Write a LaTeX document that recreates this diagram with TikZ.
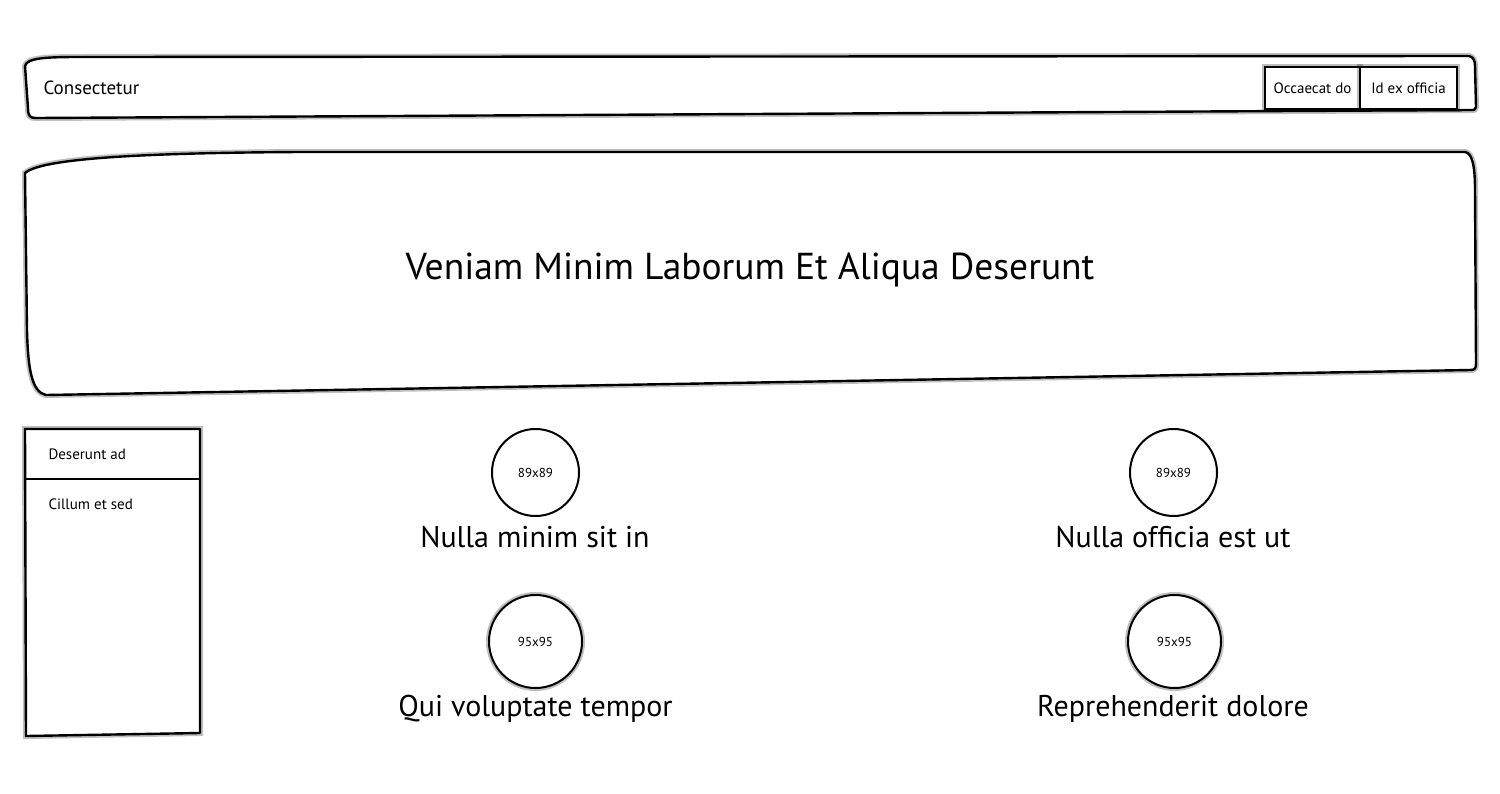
\documentclass[tikz,border=0pt]{standalone}
\usepackage{fontspec}
\setmainfont{PT Sans}
\begin{document}
\begin{tikzpicture}[x=1pt,y=-1pt,
  halo/.style={preaction={draw=black,opacity=0.25,line width=6pt}},
  frame/.style={draw=black,line width=2.4pt,fill=white,line join=round},
  thin/.style={draw=black,line width=2pt,fill=white},
  small/.style={font=\fontsize{13}{15}\selectfont},
  med/.style={font=\fontsize{15}{18}\selectfont},
  lbl/.style={font=\fontsize{30}{36}\selectfont},
]
\useasboundingbox (0,0) rectangle (1500,793);
\fill[white] (0,0) rectangle (1500,793);
% header bar
\path[frame,halo] (25,66) .. controls (27,58) and (45,57) .. (80,57) -- (1469,56)
  .. controls (1473,57) and (1475,60) .. (1475,66) -- (1476,107)
  .. controls (1476,110) and (1474,110) .. (1470,110) -- (36,118)
  .. controls (30,118) and (28,116) .. (28,108) -- cycle;
\node[font=\fontsize{19}{22}\selectfont,anchor=west] (brand) at (40,88) {Consectetur};
\node[thin,halo,med,minimum width=95pt,minimum height=42pt,inner sep=0pt] (b1) at (1312.5,88) {Occaecat do};
\node[thin,halo,med,minimum width=97pt,minimum height=42pt,inner sep=0pt] (b2) at (1408.5,88) {Id ex officia};
% hero
\path[frame,halo] (25,173) .. controls (40,160) and (120,153) .. (300,152) -- (1465,152)
  .. controls (1472,153) and (1475,165) .. (1475,190) -- (1476,364)
  .. controls (1476,369) and (1474,370) .. (1470,370) -- (46,395)
  .. controls (32,392) and (28,370) .. (27,330) -- cycle;
\node[font=\fontsize{37.5}{44}\selectfont] (title) at (750,270) {Veniam Minim Laborum Et Aliqua Deserunt};
% sidebar
\path[frame,halo] (25,429) -- (200,429) -- (200,733) -- (26,736) -- cycle;
\draw[line width=2.4pt] (25,479) -- (200,479);
\node[med,anchor=west] (s1) at (45,454) {Deserunt ad};
\node[med,anchor=west] (s2) at (45,504) {Cillum et sed};
% circles
\node[thin,circle,minimum size=87pt,inner sep=0pt,small] (c1) at (535.5,472.5) {89x89};
\node[thin,circle,minimum size=87pt,inner sep=0pt,small] (c2) at (1173.5,472.5) {89x89};
\node[thin,halo,circle,minimum size=93pt,inner sep=0pt,small] (c3) at (535.5,641.5) {95x95};
\node[thin,halo,circle,minimum size=93pt,inner sep=0pt,small] (c4) at (1174.5,641.5) {95x95};
\node[lbl] (l1) at (535,537) {Nulla minim sit in};
\node[lbl] (l2) at (1173,537) {Nulla officia est ut};
\node[lbl] (l3) at (535.5,709) {Qui voluptate tempor};
\node[lbl] (l4) at (1173,709) {Reprehenderit dolore};
\end{tikzpicture}
\end{document}
